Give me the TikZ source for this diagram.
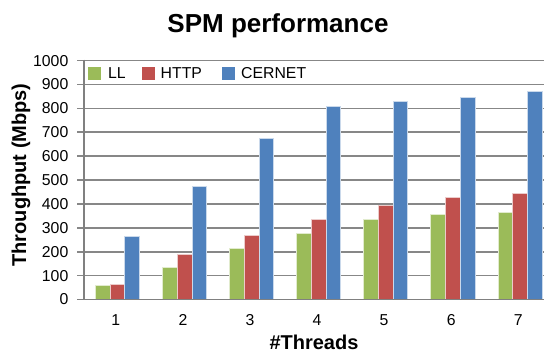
\documentclass[tikz,border=0pt]{standalone}
\usepackage{fontspec}
\setmainfont{Liberation Sans}
\begin{document}
\begin{tikzpicture}[x=1pt,y=-1pt,
  gridline/.style={draw=black!47,line width=1.7pt},
  axisline/.style={draw=black!50,line width=1.9pt},
  ticklabel/.style={font=\fontsize{15.8}{18}\selectfont,inner sep=0pt},
  axislabel/.style={font=\bfseries\fontsize{20}{22}\selectfont,inner sep=0pt},
  barLL/.style={fill=llgreen,draw=white!70!llgreen,line width=0.4pt},
  barHTTP/.style={fill=httpred,draw=white!70!httpred,line width=0.4pt},
  barCERNET/.style={fill=cernetblue,draw=white!70!cernetblue,line width=0.4pt},
  legendkey/.style={minimum size=13pt,inner sep=0pt}]
\definecolor{llgreen}{HTML}{9BBB59}
\definecolor{httpred}{HTML}{C0504D}
\definecolor{cernetblue}{HTML}{4F81BD}
\useasboundingbox[fill=white] (0,0) rectangle (544,352);
% plot geometry: left edge, category width, bar width, zero line and scale
\def\xo{83.8}\def\cw{67.07}\def\bw{14.7}\def\yo{299.5}\def\sc{0.2389}
% horizontal grid lines with ticks and labels
\foreach \v in {100,200,...,1000}{
  \draw[gridline] (77,{\yo-\v*\sc}) -- (544,{\yo-\v*\sc});
}
\foreach \v in {0,100,...,1000}{
  \node[ticklabel,anchor=east] (ytick\v) at (68.5,{\yo-\v*\sc}) {\v};
}
% bars
\foreach \i/\a/\b/\c in {1/58/64/264,2/137/191/474,3/214/269/677,4/279/337/809,5/338/394/831,6/358/427/847,7/364/447/873}{
  \pgfmathsetmacro{\cx}{\xo+(\i-0.5)*\cw}
  \draw[barLL] ({\cx-1.5*\bw},\yo) rectangle ({\cx-0.5*\bw},{\yo-\a*\sc});
  \draw[barHTTP] ({\cx-0.5*\bw},\yo) rectangle ({\cx+0.5*\bw},{\yo-\b*\sc});
  \draw[barCERNET] ({\cx+0.5*\bw},\yo) rectangle ({\cx+1.5*\bw},{\yo-\c*\sc});
  \node[ticklabel] (xtick\i) at ({\cx-1.5},320) {\i};
}
% axes
\draw[axisline] (77,\yo) -- (544,\yo);
\draw[axisline] (\xo,{\yo-1000*\sc-1}) -- (\xo,{\yo+1});
% legend
\node[legendkey,fill=llgreen] (keyLL) at (94.8,73.5) {};
\node[ticklabel,anchor=west] (labLL) at (108,73.5) {LL};
\node[legendkey,fill=httpred] (keyHTTP) at (148,73.5) {};
\node[ticklabel,anchor=west] (labHTTP) at (160.5,73.5) {HTTP};
\node[legendkey,fill=cernetblue] (keyCERNET) at (228.8,73.5) {};
\node[ticklabel,anchor=west] (labCERNET) at (241,73.5) {CERNET};
% titles
\node[font=\bfseries\fontsize{26}{30}\selectfont,inner sep=0pt] (title) at (278,26) {SPM performance};
\node[axislabel] (xlabel) at (314,342) {\#Threads};
\node[axislabel,rotate=90] (ylabel) at (21,175) {Throughput (Mbps)};
\end{tikzpicture}
\end{document}
